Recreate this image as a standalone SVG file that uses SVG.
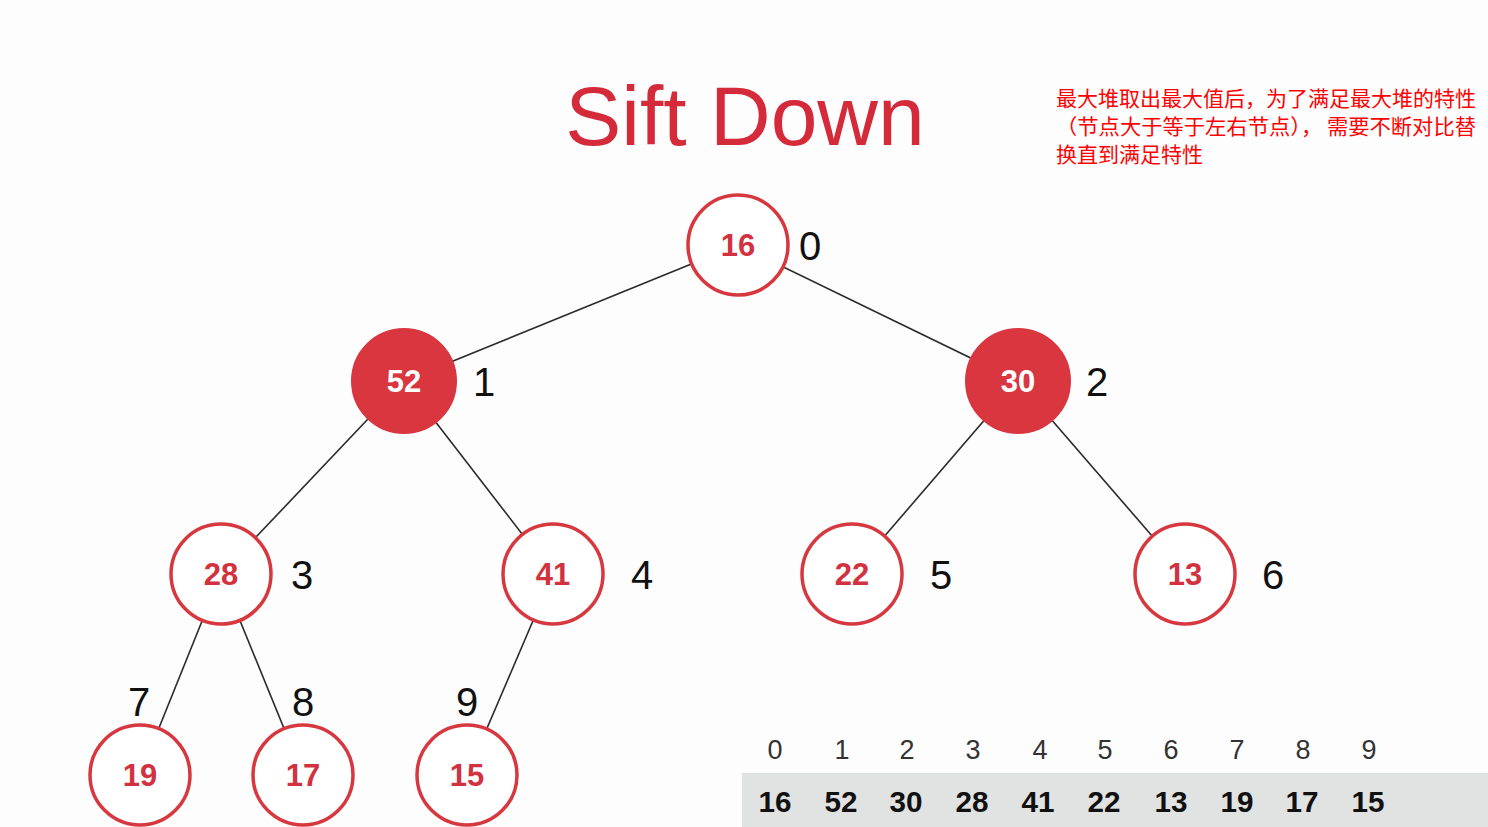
<svg xmlns="http://www.w3.org/2000/svg" width="1488" height="827" viewBox="0 0 1488 827">
<style>
.edge{stroke:#2a2a2a;stroke-width:1.6;fill:none}
.c{fill:#fff;stroke:#d7373f;stroke-width:3.5}
.cf{fill:#d9363f;stroke:#d9363f;stroke-width:2}
.v{font-family:"Liberation Sans",Arial,sans-serif;font-weight:bold;font-size:31px;fill:#d2323f;text-anchor:middle}
.vf{font-family:"Liberation Sans",Arial,sans-serif;font-weight:bold;font-size:31px;fill:#fff;text-anchor:middle}
.idx{font-family:"Liberation Sans",Arial,sans-serif;font-size:40px;fill:#111}
.ai{font-family:"Liberation Sans",Arial,sans-serif;font-size:27px;fill:#333;text-anchor:middle}
.av{font-family:"Liberation Sans",Arial,sans-serif;font-weight:bold;font-size:29px;fill:#111;text-anchor:middle}
.note{font-family:"Noto Sans CJK SC",sans-serif;font-size:21px;fill:#ff0000}
</style>
<rect width="1488" height="827" fill="#fdfdfd"/>
<text x="745" y="145" font-family="Liberation Sans,Arial,sans-serif" font-size="84" fill="#d42a3a" text-anchor="middle">Sift Down</text>
<g id="note" class="note">
<text x="1056" y="106" textLength="420" lengthAdjust="spacingAndGlyphs">最大堆取出最大值后，为了满足最大堆的特性</text>
<text x="1056" y="134" textLength="420" lengthAdjust="spacingAndGlyphs">（节点大于等于左右节点）， 需要不断对比替</text>
<text x="1056" y="162">换直到满足特性</text>
</g>
<g id="connectors">
<line class="edge" x1="738" y1="245" x2="404" y2="381"/>
<line class="edge" x1="738" y1="245" x2="1018" y2="381"/>
<line class="edge" x1="404" y1="381" x2="221" y2="574"/>
<line class="edge" x1="404" y1="381" x2="553" y2="574"/>
<line class="edge" x1="1018" y1="381" x2="852" y2="574"/>
<line class="edge" x1="1018" y1="381" x2="1185" y2="574"/>
<line class="edge" x1="221" y1="574" x2="140" y2="775"/>
<line class="edge" x1="221" y1="574" x2="303" y2="775"/>
<line class="edge" x1="553" y1="574" x2="467" y2="775"/>
</g>
<g id="n0"><circle class="c" cx="738" cy="245" r="50"/><text class="v" x="738" y="256">16</text><text class="idx" x="799" y="260">0</text></g>
<g id="n1"><circle class="cf" cx="404" cy="381" r="52"/><text class="vf" x="404" y="392">52</text><text class="idx" x="473" y="396">1</text></g>
<g id="n2"><circle class="cf" cx="1018" cy="381" r="52"/><text class="vf" x="1018" y="392">30</text><text class="idx" x="1086" y="396">2</text></g>
<g id="n3"><circle class="c" cx="221" cy="574" r="50"/><text class="v" x="221" y="585">28</text><text class="idx" x="291" y="589">3</text></g>
<g id="n4"><circle class="c" cx="553" cy="574" r="50"/><text class="v" x="553" y="585">41</text><text class="idx" x="631" y="589">4</text></g>
<g id="n5"><circle class="c" cx="852" cy="574" r="50"/><text class="v" x="852" y="585">22</text><text class="idx" x="930" y="589">5</text></g>
<g id="n6"><circle class="c" cx="1185" cy="574" r="50"/><text class="v" x="1185" y="585">13</text><text class="idx" x="1262" y="589">6</text></g>
<g id="n7"><circle class="c" cx="140" cy="775" r="50"/><text class="v" x="140" y="786">19</text><text class="idx" x="128" y="716">7</text></g>
<g id="n8"><circle class="c" cx="303" cy="775" r="50"/><text class="v" x="303" y="786">17</text><text class="idx" x="292" y="716">8</text></g>
<g id="n9"><circle class="c" cx="467" cy="775" r="50"/><text class="v" x="467" y="786">15</text><text class="idx" x="456" y="716">9</text></g>
<g id="array">
<rect x="742" y="773" width="746" height="54" fill="#e1e2e2"/>
<g class="ai">
<text x="775" y="759">0</text><text x="842" y="759">1</text><text x="907" y="759">2</text><text x="973" y="759">3</text><text x="1040" y="759">4</text><text x="1105" y="759">5</text><text x="1171" y="759">6</text><text x="1237" y="759">7</text><text x="1303" y="759">8</text><text x="1369" y="759">9</text>
</g>
<g class="av">
<text x="775" y="812" textLength="33" lengthAdjust="spacingAndGlyphs">16</text>
<text x="841" y="812" textLength="33" lengthAdjust="spacingAndGlyphs">52</text>
<text x="906" y="812" textLength="33" lengthAdjust="spacingAndGlyphs">30</text>
<text x="972" y="812" textLength="33" lengthAdjust="spacingAndGlyphs">28</text>
<text x="1038" y="812" textLength="33" lengthAdjust="spacingAndGlyphs">41</text>
<text x="1104" y="812" textLength="33" lengthAdjust="spacingAndGlyphs">22</text>
<text x="1171" y="812" textLength="33" lengthAdjust="spacingAndGlyphs">13</text>
<text x="1237" y="812" textLength="33" lengthAdjust="spacingAndGlyphs">19</text>
<text x="1302" y="812" textLength="33" lengthAdjust="spacingAndGlyphs">17</text>
<text x="1368" y="812" textLength="33" lengthAdjust="spacingAndGlyphs">15</text>
</g>
</g>
</svg>
